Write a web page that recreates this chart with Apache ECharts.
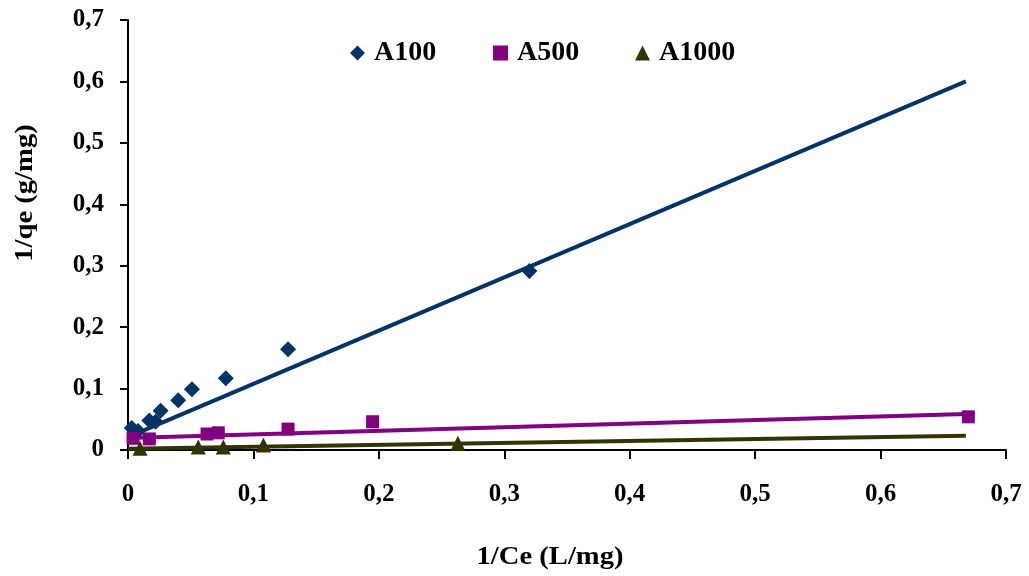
<!DOCTYPE html>
<html>
<head>
<meta charset="utf-8">
<script src="https://cdn.jsdelivr.net/npm/echarts@6/dist/echarts.min.js"></script>
<style>
html,body{margin:0;padding:0;background:#fff;}
#chart{width:1029px;height:576px;}
</style>
</head>
<body>
<div id="chart"></div>
<script>
// A100 points
var a100X = [0.003, 0.008, 0.017, 0.022, 0.026, 0.040, 0.051, 0.078, 0.1276, 0.320];
var a100Y = [0.036, 0.031, 0.048, 0.046, 0.064, 0.081, 0.099, 0.117, 0.164, 0.2915];
// A500 points
var a500X = [0.004, 0.017, 0.063, 0.072, 0.1276, 0.195, 0.670];
var a500Y = [0.019, 0.018, 0.026, 0.028, 0.034, 0.046, 0.054];
// A1000 points
var a1000X = [0.0096, 0.056, 0.076, 0.108, 0.263];
var a1000Y = [0.003, 0.005, 0.005, 0.008, 0.011];
// trend lines (end points)
var trendX = [0, 0.668];
var trendA100 = [0.021, 0.600];
var trendA500 = [0.0195, 0.0586];
var trendA1000 = [0.002, 0.023];

var names = ['A100', 'A500', 'A1000'];
var icons = ['diamond', 'rect', 'triangle'];
var colors = ['#003366', '#800080', '#333300'];

function pairs(xs, ys){
	var out = [];
	for(var i = 0; i < xs.length; i++){
		out.push([xs[i], ys[i]]);
	}
	return out;
}
function fmt(v){
	if(v === 0){
		return '0';
	}
	return String(Math.round(v * 10) / 10).replace('.', ',');
}

var chart = echarts.init(document.getElementById('chart'));
var font = '"Liberation Serif", "Times New Roman", serif';

// one legend per item so each sits where it is in the picture
var legendLeft = [345, 488, 630];
var legends = [];
for(var i = 0; i < names.length; i++){
	legends.push({
		data: [{name: names[i], icon: icons[i]}],
		top: 34,
		left: legendLeft[i],
		itemWidth: 15,
		itemHeight: 15,
		textStyle: {
			fontFamily: font,
			fontWeight: 'bold',
			fontSize: 28,
			color: '#000',
			padding: [0, 0, 0, 4]
		}
	});
}

var option = {
	animation: false,
	grid: {
		left: 128,
		right: 23,
		top: 20,
		bottom: 126
	},
	legend: legends,
	xAxis: {
		type: 'value',
		min: 0,
		max: 0.7,
		interval: 0.1,
		splitLine: {show: false},
		axisLine: {onZero: false, lineStyle: {color: '#000', width: 2}},
		axisTick: {show: true, length: 9, lineStyle: {color: '#000', width: 2}},
		axisLabel: {
			formatter: fmt,
			margin: 32,
			fontFamily: font,
			fontWeight: 'bold',
			fontSize: 25,
			color: '#000'
		}
	},
	yAxis: {
		type: 'value',
		min: 0,
		max: 0.7,
		interval: 0.1,
		splitLine: {show: false},
		axisLine: {onZero: false, lineStyle: {color: '#000', width: 2}},
		axisTick: {show: true, length: 8, lineStyle: {color: '#000', width: 2}},
		axisLabel: {
			formatter: fmt,
			margin: 24,
			fontFamily: font,
			fontWeight: 'bold',
			fontSize: 25,
			color: '#000'
		}
	},
	graphic: [
		{
			type: 'text',
			x: 550,
			y: 557,
			scaleX: 1.1,
			style: {
				text: '1/Ce (L/mg)',
				font: 'bold 26px ' + font,
				fill: '#000',
				align: 'center',
				verticalAlign: 'middle'
			}
		},
		{
			type: 'text',
			x: 25,
			y: 193,
			rotation: Math.PI / 2,
			scaleX: 1.1,
			style: {
				text: '1/qe (g/mg)',
				font: 'bold 26px ' + font,
				fill: '#000',
				align: 'center',
				verticalAlign: 'middle'
			}
		}
	],
	series: [
		{
			name: 'trend A100',
			type: 'line',
			data: pairs(trendX, trendA100),
			symbol: 'none',
			lineStyle: {color: colors[0], width: 4},
			z: 2
		},
		{
			name: 'trend A500',
			type: 'line',
			data: pairs(trendX, trendA500),
			symbol: 'none',
			lineStyle: {color: colors[1], width: 4},
			z: 2
		},
		{
			name: 'trend A1000',
			type: 'line',
			data: pairs(trendX, trendA1000),
			symbol: 'none',
			lineStyle: {color: colors[2], width: 4},
			z: 2
		},
		{
			name: names[0],
			type: 'scatter',
			data: pairs(a100X, a100Y),
			symbol: 'diamond',
			symbolSize: 16,
			itemStyle: {color: colors[0], opacity: 1},
			z: 3
		},
		{
			name: names[1],
			type: 'scatter',
			data: pairs(a500X, a500Y),
			symbol: 'rect',
			symbolSize: 13,
			itemStyle: {color: colors[1], opacity: 1},
			z: 3
		},
		{
			name: names[2],
			type: 'scatter',
			data: pairs(a1000X, a1000Y),
			symbol: 'triangle',
			symbolSize: 15,
			itemStyle: {color: colors[2], opacity: 1},
			z: 3
		}
	]
};
chart.setOption(option);
</script>
</body>
</html>
